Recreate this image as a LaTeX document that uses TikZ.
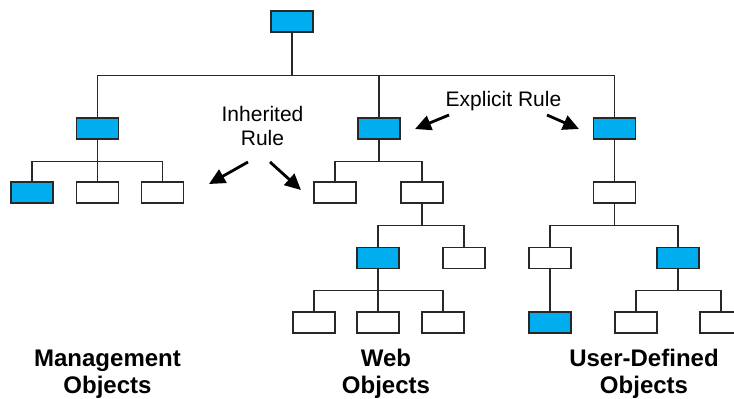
\documentclass[tikz,border=0pt]{standalone}
\usepackage{fontspec}
\setmainfont{Liberation Sans}
\usetikzlibrary{arrows.meta}
\definecolor{boxblue}{RGB}{0,174,239}
\definecolor{linegray}{RGB}{40,40,40}
\begin{document}
\begin{tikzpicture}[x=1bp,y=-1bp,
  obj/.style={draw=linegray,line width=1.3bp,minimum width=42bp,minimum height=21bp,inner sep=0pt,fill=white},
  sel/.style={obj,fill=boxblue},
  conn/.style={draw=linegray,line width=1.3bp},
  rulearrow/.style={line width=2.8bp,-{Triangle[length=16bp,width=15bp]}},
  lab/.style={font=\fontsize{21bp}{24bp}\selectfont,align=center},
  grp/.style={font=\fontsize{24bp}{27bp}\selectfont\bfseries,align=center}]
\useasboundingbox (0,0) rectangle (734,398);
\begin{scope}
\clip (0,0) rectangle (734,398);
% nodes
\node[sel] (root) at (292,21.5) {};
\node[sel] (m) at (97.5,128.5) {};
\node[sel] (w) at (379,128.5) {};
\node[sel] (u) at (614.5,128.5) {};
\node[sel] (m1) at (32,192.5) {};
\node[obj] (m2) at (97.5,192.5) {};
\node[obj] (m3) at (162.5,192.5) {};
\node[obj] (w1) at (335,192.5) {};
\node[obj] (w2) at (422,192.5) {};
\node[sel] (w21) at (378,258) {};
\node[obj] (w22) at (464,258) {};
\node[obj] (w211) at (314,322.5) {};
\node[obj] (w212) at (378,322.5) {};
\node[obj] (w213) at (443,322.5) {};
\node[obj] (u1) at (614.5,192.5) {};
\node[obj] (u11) at (550,258) {};
\node[sel] (u12) at (678,258) {};
\node[sel] (u111) at (550,322.5) {};
\node[obj] (u121) at (636,322.5) {};
\node[obj] (u122) at (721,322.5) {};
% connectors
\foreach \c in {m,w,u} \draw[conn] (root.south) -- ++(0,43) -| (\c.north);
\foreach \c in {m1,m2,m3} \draw[conn] (m.south) -- ++(0,22) -| (\c.north);
\foreach \c in {w1,w2} \draw[conn] (w.south) -- ++(0,22) -| (\c.north);
\draw[conn] (u.south) -- (u1.north);
\foreach \c in {w21,w22} \draw[conn] (w2.south) -- ++(0,22) -| (\c.north);
\foreach \c in {w211,w212,w213} \draw[conn] (w21.south) -- ++(0,21) -| (\c.north);
\foreach \c in {u11,u12} \draw[conn] (u1.south) -- ++(0,22) -| (\c.north);
\draw[conn] (u11.south) -- (u111.north);
\foreach \c in {u121,u122} \draw[conn] (u12.south) -- ++(0,21) -| (\c.north);
\end{scope}
% labels
\node[lab] (inh) at (262.5,126) {Inherited\\Rule};
\node[lab,anchor=base] (exp) at (503.5,106) {Explicit Rule};
\coordinate (ia1) at (248,162);
\coordinate (ia2) at (209,184);
\coordinate (ib1) at (270,162);
\coordinate (ib2) at (301,190);
\coordinate (ea1) at (449,115);
\coordinate (ea2) at (415,129);
\coordinate (eb1) at (547,115);
\coordinate (eb2) at (579,129);
\draw[rulearrow] (ia1) -- (ia2);
\draw[rulearrow] (ib1) -- (ib2);
\draw[rulearrow] (ea1) -- (ea2);
\draw[rulearrow] (eb1) -- (eb2);
\node[grp,anchor=base] (mg) at (107.5,393) {Management\\Objects};
\node[grp,anchor=base] (wb) at (386,393) {Web\\Objects};
\node[grp,anchor=base] (ud) at (644,393) {User-Defined\\Objects};
\end{tikzpicture}
\end{document}
